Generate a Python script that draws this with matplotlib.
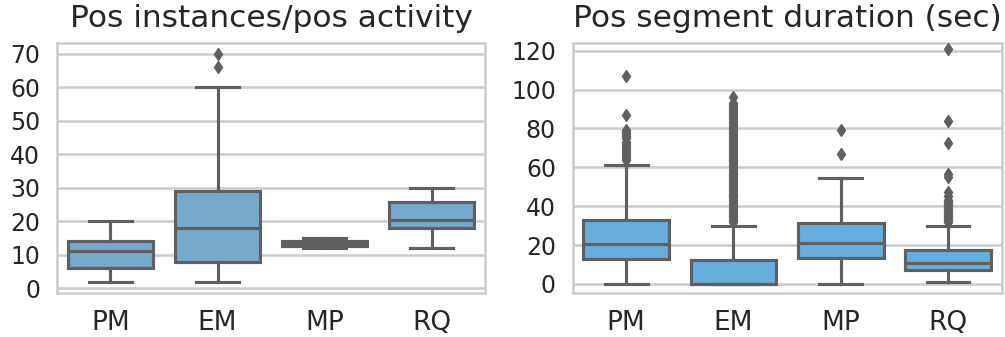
#!/usr/bin/env python3

import matplotlib
matplotlib.use("Agg")
import matplotlib.pyplot as plt

groups = ["PM", "EM", "MP", "RQ"]

# instances per positive activity: whisker low, q1, median, q3, whisker high
inst_whislo = [2, 2, 12, 12]
inst_q1 = [6, 8, 12.75, 18]
inst_med = [11, 18, 13.5, 20.5]
inst_q3 = [14, 29, 14.25, 25.7]
inst_whishi = [20, 60, 15, 30]
inst_fliers = [[], [66, 70], [], []]

# positive segment duration (sec)
dur_whislo = [0, 0, 0, 1]
dur_q1 = [13, 0, 13.5, 7]
dur_med = [20.5, 0, 21, 10.5]
dur_q3 = [33, 12.5, 31.5, 17.5]
dur_whishi = [61, 30, 54.5, 30]
dur_fliers = [
    [64, 65, 66, 67, 68, 69, 70, 71, 72, 73, 75, 76, 77, 78, 79, 87, 107],
    [32, 33, 34, 35, 36, 37, 38, 39, 40, 41, 42, 43, 44, 45, 46, 47, 48,
     49, 50, 51, 52, 53, 54, 55, 56, 57, 58, 59, 60, 61, 62, 63, 64, 65,
     66, 67, 68, 69, 70, 71, 72, 73, 74, 75, 76, 77, 78, 79, 80, 81, 82,
     83, 84, 85, 86, 87, 88, 89, 90, 91, 92, 93, 96],
    [67, 79],
    [32, 33, 34, 35, 36, 37, 38, 39, 40, 41, 42, 43, 45, 47.5, 55, 56.5,
     72.5, 84, 121],
]

LINE = "#606060"
GRID = "#cccccc"


def make_stats(whislo, q1, med, q3, whishi, fliers):
    stats = []
    for i in range(len(groups)):
        stats.append(dict(whislo=whislo[i], q1=q1[i], med=med[i], q3=q3[i],
                          whishi=whishi[i], fliers=fliers[i], label=groups[i]))
    return stats


def draw(ax, stats, fill, title, ticks, ylim):
    lw = 2.25
    ax.bxp(stats, positions=range(len(groups)), widths=0.8, patch_artist=True,
           boxprops=dict(facecolor=fill, edgecolor=LINE, linewidth=lw),
           medianprops=dict(color=LINE, linewidth=lw),
           whiskerprops=dict(color=LINE, linewidth=lw),
           capprops=dict(color=LINE, linewidth=lw),
           flierprops=dict(marker="d", markerfacecolor=LINE, markeredgecolor=LINE,
                           markersize=6, linestyle="none"),
           zorder=3)
    ax.set_xlim(-0.5, len(groups) - 0.5)
    ax.set_ylim(*ylim)
    ax.set_yticks(ticks)
    ax.set_xticks(range(len(groups)))
    ax.set_xticklabels(groups)
    ax.yaxis.grid(True, color=GRID, linewidth=1.8, zorder=0)
    ax.xaxis.grid(False)
    ax.set_axisbelow(True)
    for s in ax.spines.values():
        s.set_color(GRID)
        s.set_linewidth(1.8)
    ax.tick_params(length=0, colors="#262626")
    ax.tick_params(axis="y", labelsize=17, pad=12)
    ax.tick_params(axis="x", labelsize=19, pad=12)
    ax.set_title(title, fontsize=22.5, color="#262626", pad=11)


fig = plt.figure(figsize=(10.05, 3.37), dpi=100)
ax1 = fig.add_axes([0.0567, 0.1306, 0.426, 0.743])
ax2 = fig.add_axes([0.5697, 0.1306, 0.427, 0.743])

draw(ax1, make_stats(inst_whislo, inst_q1, inst_med, inst_q3, inst_whishi, inst_fliers),
     "#76a8c9", "Pos instances/pos activity", range(0, 71, 10), (-1.4, 73.4))
draw(ax2, make_stats(dur_whislo, dur_q1, dur_med, dur_q3, dur_whishi, dur_fliers),
     "#66aedb", "Pos segment duration (sec)", range(0, 121, 20), (-4.7, 124.2))

fig.savefig("out.png", dpi=100)
